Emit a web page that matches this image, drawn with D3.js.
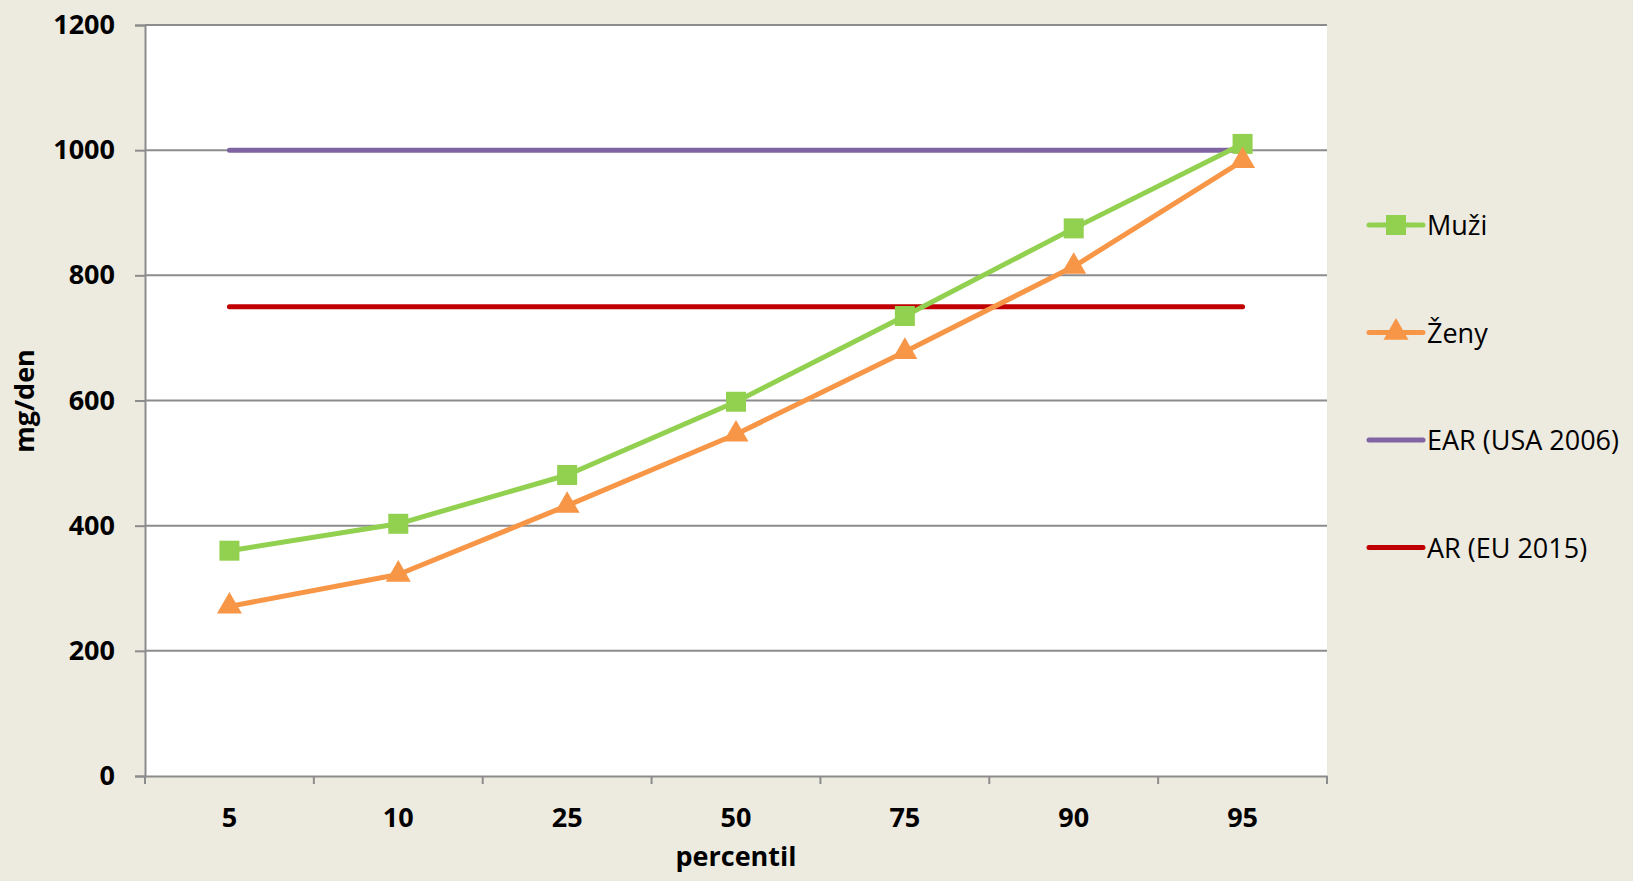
<!DOCTYPE html>
<html>
<head>
<meta charset="utf-8">
<script src="https://cdn.jsdelivr.net/npm/d3@7"></script>
<style>
  html, body { margin: 0; padding: 0; background: #edeae0; overflow: hidden; }
  svg { display: block; }
</style>
</head>
<body>
<svg width="1633" height="881"></svg>
<script>
const percentiles = ["5", "10", "25", "50", "75", "90", "95"];
const muzi = [360, 403, 481, 598, 735, 875, 1010];
const zeny = [271, 322, 432, 546, 678, 814, 983];
const ear = [1000, 1000, 1000, 1000, 1000, 1000, 1000];
const ar = [750, 750, 750, 750, 750, 750, 750];
const yTicks = [0, 200, 400, 600, 800, 1000, 1200];

const series = [
  { name: "Muži", values: muzi, color: "#92d050", marker: "square" },
  { name: "Ženy", values: zeny, color: "#f79646", marker: "triangle" },
  { name: "EAR (USA 2006)", values: ear, color: "#8064a2", marker: null },
  { name: "AR (EU 2015)", values: ar, color: "#c00000", marker: null }
];

const svg = d3.select("svg");
const font = "'Open Sans', 'Noto Sans', sans-serif";

const margin = { top: 25, left: 145, right: 306, bottom: 105 };
const width = +svg.attr("width");
const height = +svg.attr("height");
const innerWidth = width - margin.left - margin.right;
const innerHeight = height - margin.top - margin.bottom;

const xScale = d3.scaleBand()
  .domain(percentiles)
  .range([0, innerWidth]);

const yScale = d3.scaleLinear()
  .domain([0, 1200])
  .range([innerHeight, 0]);

const xPos = d => xScale(d) + xScale.bandwidth() / 2;

const g = svg.append("g")
  .attr("transform", `translate(${margin.left}, ${margin.top})`);

g.append("rect")
  .attr("width", innerWidth)
  .attr("height", innerHeight)
  .attr("fill", "#fff");

// horizontal gridlines
g.selectAll(".grid").data(yTicks.slice(1))
  .enter().append("line")
    .attr("x1", 0).attr("x2", innerWidth)
    .attr("y1", d => yScale(d)).attr("y2", d => yScale(d))
    .attr("stroke", "#8c8c8c")
    .attr("stroke-width", 2);

// y axis
const yAxis = d3.axisLeft(yScale)
  .tickValues(yTicks)
  .tickFormat(d3.format("d"))
  .tickSize(10)
  .tickPadding(20);
const yAxisG = g.append("g").call(yAxis);
yAxisG.select(".domain").attr("stroke", "#8c8c8c").attr("stroke-width", 2);
yAxisG.selectAll(".tick line").attr("stroke", "#8c8c8c").attr("stroke-width", 2);
yAxisG.selectAll("text")
  .attr("font-family", font)
  .attr("font-size", 27)
  .attr("font-weight", "bold")
  .attr("fill", "#000");

// x axis: ticks on category boundaries, labels in the middle of each band
const xAxis = d3.axisBottom(xScale)
  .tickSize(0)
  .tickPadding(32);
const xAxisG = g.append("g")
  .attr("transform", `translate(0, ${innerHeight})`)
  .call(xAxis);
xAxisG.select(".domain").attr("stroke", "#8c8c8c").attr("stroke-width", 2);
xAxisG.selectAll("text")
  .attr("font-family", font)
  .attr("font-size", 27)
  .attr("font-weight", "bold")
  .attr("fill", "#000");
const bounds = percentiles.map(d => xScale(d)).concat([innerWidth]);
xAxisG.selectAll(".xtick").data(bounds)
  .enter().append("line")
    .attr("x1", d => d).attr("x2", d => d)
    .attr("y1", 0).attr("y2", 8)
    .attr("stroke", "#8c8c8c").attr("stroke-width", 2);

// axis titles
svg.append("text")
  .attr("x", margin.left + xPos("50"))
  .attr("y", 866)
  .attr("text-anchor", "middle")
  .attr("font-family", font)
  .attr("font-size", 27)
  .attr("font-weight", "bold")
  .attr("fill", "#000")
  .text("percentil");

svg.append("text")
  .attr("transform", "translate(34, 401) rotate(-90)")
  .attr("text-anchor", "middle")
  .attr("font-family", font)
  .attr("font-size", 27)
  .attr("font-weight", "bold")
  .attr("fill", "#000")
  .text("mg/den");

// lines
const line = d3.line()
  .x((v, i) => xPos(percentiles[i]))
  .y(v => yScale(v));

const drawOrder = [series[2], series[3], series[0], series[1]];
drawOrder.forEach(s => {
  g.append("path")
    .datum(s.values)
    .attr("d", line)
    .attr("fill", "none")
    .attr("stroke", s.color)
    .attr("stroke-width", 5)
    .attr("stroke-linecap", "round")
    .attr("stroke-linejoin", "round");
});

const squareSym = d3.symbol().type(d3.symbolSquare).size(400);
const triSym = d3.symbol().type(d3.symbolTriangle).size(270);

function drawMarker(sel, s) {
  sel.append("path")
    .attr("d", s.marker === "square" ? squareSym() : triSym())
    .attr("fill", s.color);
}

[series[0], series[1]].forEach(s => {
  g.selectAll(null).data(s.values)
    .enter().append("g")
      .attr("transform", (v, i) => `translate(${xPos(percentiles[i])}, ${yScale(v)})`)
      .each(function() { drawMarker(d3.select(this), s); });
});

// legend
const legend = svg.append("g").attr("transform", "translate(1369, 225)");
series.forEach((s, i) => {
  const item = legend.append("g").attr("transform", `translate(0, ${i * 107.5})`);
  item.append("line")
    .attr("x1", 0).attr("x2", 54)
    .attr("stroke", s.color)
    .attr("stroke-width", 5)
    .attr("stroke-linecap", "round");
  if (s.marker) {
    const m = item.append("g").attr("transform", "translate(27, 0)");
    drawMarker(m, s);
  }
  item.append("text")
    .attr("x", 58)
    .attr("y", 10)
    .attr("font-family", font)
    .attr("font-size", 27)
    .attr("fill", "#000")
    .text(s.name);
});
</script>
</body>
</html>
